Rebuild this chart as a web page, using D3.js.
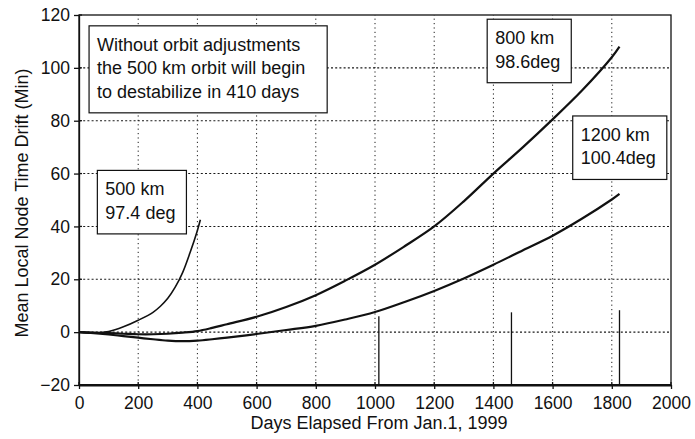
<!DOCTYPE html>
<html>
<head>
<meta charset="utf-8">
<script src="https://cdn.jsdelivr.net/npm/d3@7/dist/d3.min.js"></script>
<style>
  html, body { margin: 0; padding: 0; background: #fff; }
  svg { display: block; }
  text { font-family: "Liberation Sans", Arial, Helvetica, sans-serif; fill: #111; }
</style>
</head>
<body>
<svg id="chart" width="695" height="439"></svg>
<script>
// Axis ticks
const xTicks = [0, 200, 400, 600, 800, 1000, 1200, 1400, 1600, 1800, 2000];
const yTicks = [-20, 0, 20, 40, 60, 80, 100, 120];

// 800 km and 1200 km orbits share one day grid
const daysLong = [0, 50, 100, 150, 200, 250, 300, 350, 400, 450, 500, 600, 700, 800,
                  900, 1000, 1100, 1200, 1300, 1400, 1500, 1600, 1700, 1800, 1826];
const drift800 = [0, -0.2, -0.4, -0.6, -0.8, -0.8, -0.6, -0.2, 0.4, 1.6, 3, 5.8, 9.5, 14,
                  19.5, 25.5, 32.5, 40, 49.5, 60, 70, 80.5, 91.5, 104, 108];
const drift1200 = [0, -0.4, -0.9, -1.5, -2.1, -2.7, -3.2, -3.4, -3.2, -2.7, -2.1, -0.7, 0.8, 2.4,
                   4.8, 7.6, 11.4, 15.6, 20.3, 25.5, 31, 36.5, 43, 50.2, 52.3];

// 500 km orbit, stops when it starts to destabilize
const days500 = [0, 50, 100, 150, 200, 250, 275, 300, 325, 350, 375, 400, 410];
const drift500 = [0, -0.4, 0.2, 2, 4.5, 7.5, 9.8, 12.8, 17, 22.5, 30, 38.5, 42.5];

// Event markers along the time axis
const markerDays = [1013, 1461, 1826];
const markerTops = [6, 7.5, 8.3];

// Boxed notes: text lines and top-left anchor in data units
const noteLines = [
  ["Without orbit adjustments", "the 500 km orbit will begin", "to destabilize in 410 days"],
  ["500 km", "97.4 deg"],
  ["800 km", "98.6deg"],
  ["1200 km", "100.4deg"]
];
const noteDays = [34, 62, 1379, 1668];
const noteValues = [115.9, 61.2, 118.4, 81.8];

const svg = d3.select("#chart");
const margin = { left: 79, right: 24, top: 15, bottom: 54 };
const W = 695, H = 439;
const font = "'Liberation Sans', Arial, Helvetica, sans-serif";

svg.append("rect").attr("width", W).attr("height", H).attr("fill", "#fff");

const x = d3.scaleLinear().domain([0, 2000]).range([margin.left, W - margin.right]);
const y = d3.scaleLinear().domain([-20, 120]).range([H - margin.bottom, margin.top]);

const g = svg.append("g");

// Dotted grid
g.append("g").selectAll("line")
  .data(yTicks.filter(v => v > -20 && v < 120))
  .join("line")
  .attr("x1", x(0)).attr("x2", x(2000))
  .attr("y1", d => y(d)).attr("y2", d => y(d))
  .attr("stroke", "#1a1a1a").attr("stroke-width", 1.1)
  .attr("stroke-dasharray", "2,2.2");

g.append("g").selectAll("line")
  .data(xTicks.filter(v => v > 0 && v < 2000))
  .join("line")
  .attr("x1", d => x(d)).attr("x2", d => x(d))
  .attr("y1", y(-20)).attr("y2", y(120))
  .attr("stroke", "#1a1a1a").attr("stroke-width", 1)
  .attr("stroke-dasharray", "1.2,3.2");

// Plot frame
g.append("rect")
  .attr("x", x(0)).attr("y", y(120))
  .attr("width", x(2000) - x(0)).attr("height", y(-20) - y(120))
  .attr("fill", "none").attr("stroke", "#111").attr("stroke-width", 1.3);
g.append("line")
  .attr("x1", x(0)).attr("x2", x(2000)).attr("y1", y(-20)).attr("y2", y(-20))
  .attr("stroke", "#111").attr("stroke-width", 1.8);

// Axes
const yAxis = g.append("g")
  .attr("transform", `translate(${x(0)},0)`)
  .call(d3.axisLeft(y).tickValues(yTicks).tickFormat(d3.format("d"))
    .tickSize(5).tickSizeOuter(0).tickPadding(4));
yAxis.select(".domain").attr("stroke", "#111").attr("stroke-width", 1.3);
yAxis.selectAll(".tick line").attr("stroke", "#111").attr("stroke-width", 1.3);
yAxis.selectAll(".tick text").style("font-size", "17.5px")
  .style("font-family", font).attr("fill", "#111");

const xAxis = g.append("g")
  .attr("transform", `translate(0,${y(-20)})`)
  .call(d3.axisBottom(x).tickValues(xTicks).tickFormat(d3.format("d"))
    .tickSize(4).tickSizeOuter(0).tickPadding(8));
xAxis.select(".domain").attr("stroke", "#111").attr("stroke-width", 1.8);
xAxis.selectAll(".tick line").attr("stroke", "#111").attr("stroke-width", 1.3);
xAxis.selectAll(".tick text").style("font-size", "17.5px")
  .style("font-family", font).attr("fill", "#111");

// Inner halves of the cross-shaped ticks
g.append("g").selectAll("line").data(yTicks).join("line")
  .attr("x1", x(0)).attr("x2", x(0) + 3)
  .attr("y1", d => y(d)).attr("y2", d => y(d))
  .attr("stroke", "#111").attr("stroke-width", 1.3);
g.append("g").selectAll("line").data(xTicks).join("line")
  .attr("x1", d => x(d)).attr("x2", d => x(d))
  .attr("y1", y(-20)).attr("y2", y(-20) - 3)
  .attr("stroke", "#111").attr("stroke-width", 1.3);

// Axis titles
svg.append("text")
  .attr("x", (x(0) + x(2000)) / 2 + 4).attr("y", 429)
  .attr("text-anchor", "middle").style("font-size", "18px")
  .text("Days Elapsed From Jan.1, 1999");
svg.append("text")
  .attr("transform", `translate(28,${(y(-20) + y(120)) / 2 + 3}) rotate(-90)`)
  .attr("text-anchor", "middle").style("font-size", "18px")
  .text("Mean Local Node Time Drift (Min)");

// Event markers
g.append("g").selectAll("line").data(markerDays).join("line")
  .attr("x1", d => x(d)).attr("x2", d => x(d))
  .attr("y1", y(-20)).attr("y2", (d, i) => y(markerTops[i]))
  .attr("stroke", "#111").attr("stroke-width", 1.3);

// Drift curves
const line = d3.line().x(d => x(d[0])).y(d => y(d[1])).curve(d3.curveCatmullRom.alpha(0.5));
const curves = [
  { pts: d3.zip(daysLong, drift1200), w: 2.2 },
  { pts: d3.zip(daysLong, drift800), w: 2.2 },
  { pts: d3.zip(days500, drift500), w: 1.6 }
];
g.append("g").selectAll("path").data(curves).join("path")
  .attr("d", d => line(d.pts))
  .attr("fill", "none").attr("stroke", "#111")
  .attr("stroke-width", d => d.w).attr("stroke-linejoin", "round");

// Boxed notes
const lineGap = 23.5;
noteLines.forEach((lines, i) => {
  const bx = x(noteDays[i]), by = y(noteValues[i]);
  const note = svg.append("g");
  const rect = note.append("rect").attr("fill", "#fff").attr("stroke", "#111").attr("stroke-width", 1.2);
  const txt = note.append("text").style("font-size", "18px");
  lines.forEach((s, k) => {
    txt.append("tspan").attr("x", bx + 8).attr("y", by + 25 + k * lineGap).text(s);
  });
  const bb = txt.node().getBBox();
  rect.attr("x", bx).attr("y", by)
    .attr("width", bb.x + bb.width - bx + (i === 0 ? 22 : 11))
    .attr("height", (lines.length - 1) * lineGap + 40);
});
</script>
</body>
</html>
